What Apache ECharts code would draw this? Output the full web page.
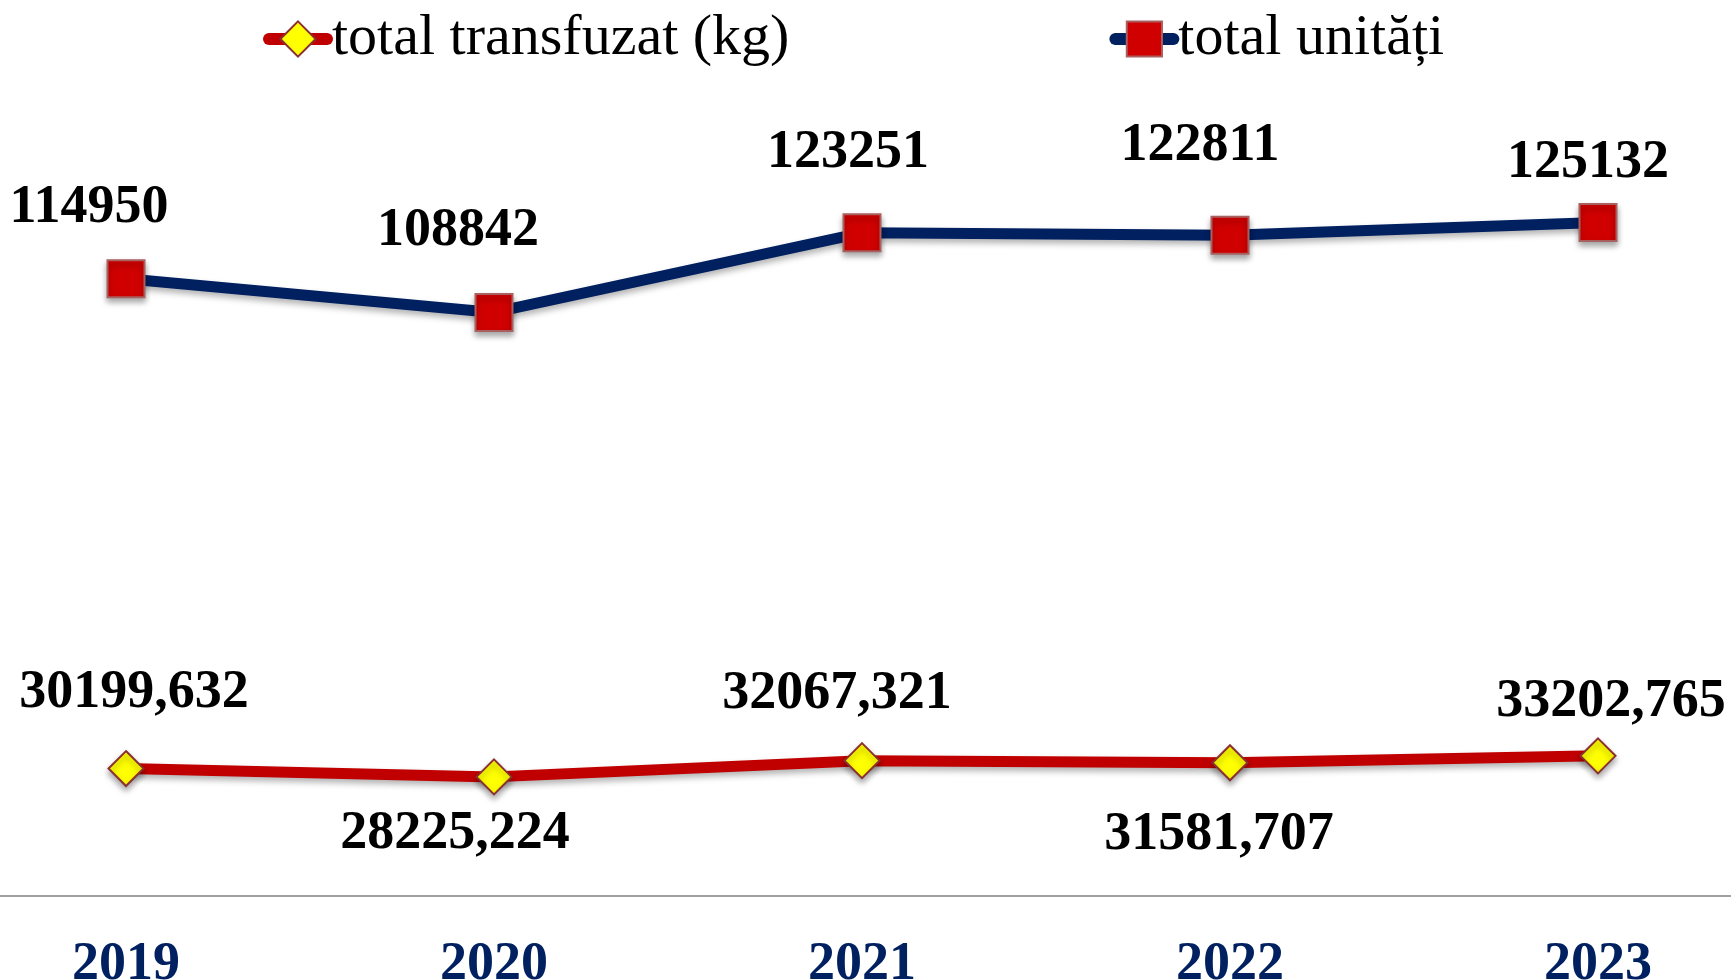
<!DOCTYPE html>
<html>
<head>
<meta charset="utf-8">
<title>total transfuzat / total unități</title>
<script src="https://cdn.jsdelivr.net/npm/echarts@6/dist/echarts.min.js"></script>
<style>
  html, body { margin: 0; padding: 0; background: #fff; }
  #chart { width: 1731px; height: 980px; }
</style>
</head>
<body>
<div id="chart"></div>
<script>
const years = ['2019', '2020', '2021', '2022', '2023']
const transfuzat = [30199.632, 28225.224, 32067.321, 31581.707, 33202.765]
const transfuzatText = ['30199,632', '28225,224', '32067,321', '31581,707', '33202,765']
const unitati = [114950, 108842, 123251, 122811, 125132]

// label offsets from the marker centre, [dx, dy]
const transfuzatLabelPos = [[8, -75], [-39, 57], [-25, -67], [-11, 72], [13, -54]]
const unitatiLabelPos = [[-37, -71], [-36, -81], [-14, -80], [-30, -89], [-10, -59]]

const serif = '"Liberation Serif", "Times New Roman", serif'

function withLabels(values, offsets, texts) {
  return values.map((v, i) => ({
    value: v,
    label: {
      offset: offsets[i],
      formatter: texts ? texts[i] : String(v)
    }
  }))
}

const chart = echarts.init(document.getElementById('chart'))
chart.setOption({
  animation: false,
  legend: {
    top: 5,
    left: 258,
    itemGap: 320,
    itemWidth: 58,
    itemHeight: 44,
    lineStyle: { width: 12, cap: 'round' },
    textStyle: {
      fontFamily: serif,
      fontSize: 58,
      color: '#000'
    },
    data: ['total transfuzat (kg)', 'total unități']
  },
  grid: {
    left: -58,
    width: 1840,
    top: 0,
    bottom: 84,
    outerBoundsMode: 'none',
    containLabel: false
  },
  xAxis: {
    type: 'category',
    data: years,
    boundaryGap: true,
    axisLine: { lineStyle: { color: '#a0a0a0', width: 2 } },
    axisTick: { show: false },
    axisLabel: {
      margin: 42,
      fontFamily: serif,
      fontWeight: 'bold',
      fontSize: 54,
      color: '#002060'
    }
  },
  yAxis: [{
    type: 'value',
    min: 3200,
    max: 165400,
    show: false
  }, {
    type: 'value',
    min: 0,
    max: 212300,
    show: false
  }],
  series: [{
    name: 'total transfuzat (kg)',
    type: 'line',
    yAxisIndex: 1,
    data: withLabels(transfuzat, transfuzatLabelPos, transfuzatText),
    symbol: 'diamond',
    symbolSize: 35,
    lineStyle: {
      color: '#c00000',
      width: 11,
      shadowColor: 'rgba(0,0,0,0.3)',
      shadowBlur: 6,
      shadowOffsetY: 4
    },
    itemStyle: {
      color: '#ffff00',
      borderColor: '#8b3030',
      borderWidth: 2,
      shadowColor: 'rgba(0,0,0,0.35)',
      shadowBlur: 6,
      shadowOffsetY: 4
    },
    label: {
      show: true,
      position: 'inside',
      align: 'center',
      verticalAlign: 'middle',
      fontFamily: serif,
      fontWeight: 'bold',
      fontSize: 54,
      color: '#000'
    },
    z: 3
  }, {
    name: 'total unități',
    type: 'line',
    yAxisIndex: 0,
    data: withLabels(unitati, unitatiLabelPos),
    symbol: 'rect',
    symbolSize: 37,
    lineStyle: {
      color: '#002060',
      width: 11,
      shadowColor: 'rgba(0,0,0,0.3)',
      shadowBlur: 6,
      shadowOffsetY: 4
    },
    itemStyle: {
      color: '#d00000',
      borderColor: '#a86060',
      borderWidth: 2,
      shadowColor: 'rgba(0,0,0,0.35)',
      shadowBlur: 6,
      shadowOffsetY: 4
    },
    label: {
      show: true,
      position: 'inside',
      align: 'center',
      verticalAlign: 'middle',
      fontFamily: serif,
      fontWeight: 'bold',
      fontSize: 54,
      color: '#000'
    },
    z: 3
  }]
})
</script>
</body>
</html>
